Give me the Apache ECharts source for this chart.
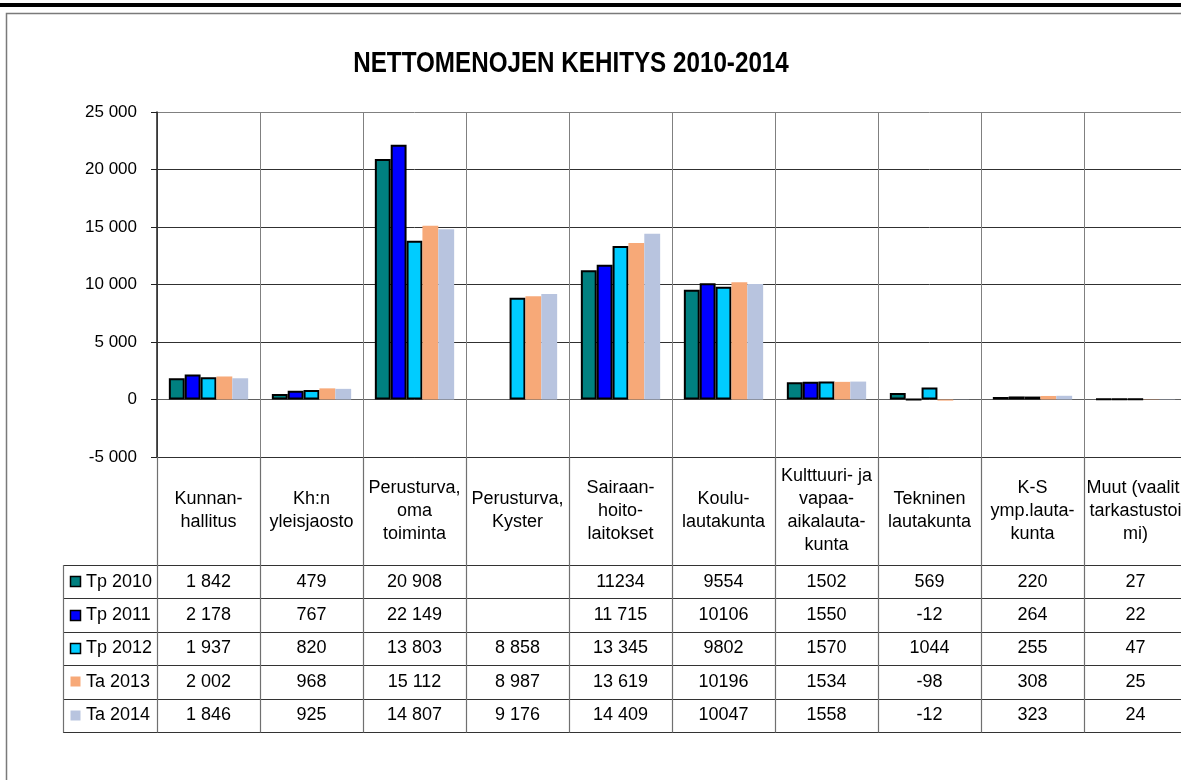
<!DOCTYPE html>
<html>
<head>
<meta charset="utf-8">
<script src="https://cdn.jsdelivr.net/npm/echarts@6/dist/echarts.min.js"></script>
<style>
  html, body { margin: 0; padding: 0; overflow: hidden; background: #fff; }
  #chart { width: 1200px; height: 800px; }
</style>
</head>
<body>
<div id="chart"></div>
<script>
// categories (header row of the data table)
const categories = [
  'Kunnan-\nhallitus',
  'Kh:n\nyleisjaosto',
  'Perusturva,\noma\ntoiminta',
  'Perusturva,\nKyster',
  'Sairaan-\nhoito-\nlaitokset',
  'Koulu-\nlautakunta',
  'Kulttuuri- ja\nvapaa-\naikalauta-\nkunta',
  'Tekninen\nlautakunta',
  'K-S\nymp.lauta-\nkunta',
  'Muut (vaalit,\ntarkastustoi\nmi)'
];
const seriesNames = ['Tp 2010', 'Tp 2011', 'Tp 2012', 'Ta 2013', 'Ta 2014'];
const seriesColors = ['#008080', '#0000ff', '#00ccff', '#f7a978', '#b8c4df'];

// values as printed in the table ('' = no value)
const tp2010 = ['1 842', '479', '20 908', '', '11234', '9554', '1502', '569', '220', '27'];
const tp2011 = ['2 178', '767', '22 149', '', '11 715', '10106', '1550', '-12', '264', '22'];
const tp2012 = ['1 937', '820', '13 803', '8 858', '13 345', '9802', '1570', '1044', '255', '47'];
const ta2013 = ['2 002', '968', '15 112', '8 987', '13 619', '10196', '1534', '-98', '308', '25'];
const ta2014 = ['1 846', '925', '14 807', '9 176', '14 409', '10047', '1558', '-12', '323', '24'];
const tableRows = [tp2010, tp2011, tp2012, ta2013, ta2014];

// y axis ticks
const yMin = -5000;
const yMax = 25000;
const yStep = 5000;

const chartTitle = 'NETTOMENOJEN KEHITYS 2010-2014';

const SANS = '"Liberation Sans", Arial, sans-serif';

const toNum = s => (s === '' ? null : Number(s.replace(/\s/g, '')));
const spaced = v => String(v).replace(/\B(?=(\d{3})+(?!\d))/g, ' ');

const chart = echarts.init(document.getElementById('chart'));

const option = {
  animation: false,
  backgroundColor: '#fff',
  grid: { left: 157, top: 112, width: 1030, height: 345, containLabel: false },
  xAxis: {
    type: 'category',
    data: categories,
    axisLine: { onZero: false, lineStyle: { color: '#303030', width: 1 } },
    axisTick: { show: false },
    splitLine: { show: true, lineStyle: { color: '#808080', width: 1 } },
    axisLabel: {
      interval: 0,
      margin: 54,
      verticalAlign: 'middle',
      color: '#000',
      fontFamily: SANS,
      fontSize: 18,
      lineHeight: 23
    }
  },
  yAxis: {
    type: 'value',
    min: yMin,
    max: yMax,
    interval: yStep,
    axisLine: { show: true, lineStyle: { color: '#202020', width: 1.5 } },
    axisTick: { show: true, length: 6, lineStyle: { color: '#202020' } },
    axisLabel: {
      margin: 20,
      color: '#000',
      fontFamily: SANS,
      fontSize: 17,
      formatter: v => spaced(v)
    },
    splitLine: {
      lineStyle: {
        color: ['#303030', '#606060', '#303030', '#303030', '#303030', '#303030', '#808080'],
        width: 1
      }
    }
  },
  series: tableRows.map((row, i) => ({
    type: 'bar',
    name: seriesNames[i],
    data: row.map(toNum),
    barGap: 0,
    barCategoryGap: '23%',
    itemStyle: {
      color: seriesColors[i],
      borderColor: i < 3 ? '#000' : seriesColors[i],
      borderWidth: i < 3 ? 2 : 0
    }
  }))
};

chart.setOption(option);

// title, frame and the data table under the plot, aligned to the category axis
function buildTable() {
  const xs = categories.map((c, i) => chart.convertToPixel({ xAxisIndex: 0 }, i));
  const band = xs[1] - xs[0];
  const plotBottom = 457;
  const rowTop = 565;
  const rowH = 33.4;
  const legendLeft = 63;
  const tableRight = 1200;
  const els = [];

  // condensed bold title like the original
  els.push({ type: 'text', z: 102, x: 571, y: 49, scaleX: 0.835,
    style: { text: chartTitle, fill: '#000', font: 'bold 29px ' + SANS, align: 'center', verticalAlign: 'top' }, silent: true });

  // page decoration: black rule and outer chart frame
  els.push({ type: 'rect', z: 100, shape: { x: 0, y: 3, width: 1200, height: 4 }, style: { fill: '#000' }, silent: true });
  els.push({ type: 'rect', z: 100, shape: { x: 6.5, y: 13.5, width: 1300, height: 1000 },
    style: { fill: 'none', stroke: '#7a7a7a', lineWidth: 1.5 }, silent: true });

  // horizontal row lines
  for (let r = 0; r <= tableRows.length; r++) {
    const y = Math.round(rowTop + r * rowH) + 0.5;
    els.push({ type: 'line', z: 100, shape: { x1: legendLeft, y1: y, x2: tableRight, y2: y },
      style: { stroke: '#333', lineWidth: 1.2 }, silent: true });
  }
  const tableBottom = Math.round(rowTop + tableRows.length * rowH) + 0.5;
  // vertical column lines
  for (let c = 0; c <= categories.length; c++) {
    const x = Math.round(xs[0] - band / 2 + c * band) + 0.5;
    els.push({ type: 'line', z: 100, shape: { x1: x, y1: plotBottom, x2: x, y2: tableBottom },
      style: { stroke: '#707070', lineWidth: 1.2 }, silent: true });
  }
  els.push({ type: 'line', z: 100, shape: { x1: legendLeft + 0.5, y1: rowTop, x2: legendLeft + 0.5, y2: tableBottom },
    style: { stroke: '#707070', lineWidth: 1.2 }, silent: true });

  tableRows.forEach((row, r) => {
    const cy = rowTop + r * rowH + rowH / 2;
    // legend key
    els.push({ type: 'rect', z: 101, shape: { x: 70.5, y: Math.round(cy - 5.5) + 0.5, width: 10, height: 10 },
      style: { fill: seriesColors[r], stroke: r < 3 ? '#000' : null, lineWidth: r < 3 ? 1.5 : 0 }, silent: true });
    els.push({ type: 'text', z: 101, x: 86, y: cy,
      style: { text: seriesNames[r], fill: '#000', font: '18px ' + SANS, align: 'left', verticalAlign: 'middle' }, silent: true });
    row.forEach((s, c) => {
      if (s === '') return;
      els.push({ type: 'text', z: 101, x: xs[c], y: cy,
        style: { text: s, fill: '#000', font: '18px ' + SANS, align: 'center', verticalAlign: 'middle' }, silent: true });
    });
  });
  chart.setOption({ graphic: els });
}
buildTable();
</script>
</body>
</html>
